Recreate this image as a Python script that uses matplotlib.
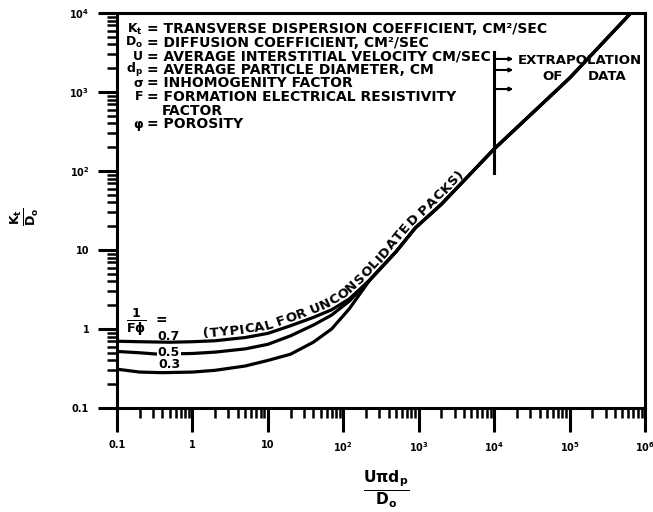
import numpy as np
import matplotlib
matplotlib.use('Agg')
import matplotlib.pyplot as plt
from matplotlib.transforms import IdentityTransform

plt.rcParams['font.family'] = ['DejaVu Sans']
plt.rcParams['font.weight'] = 'bold'
plt.rcParams['mathtext.fontset'] = 'custom'
plt.rcParams['mathtext.rm'] = 'DejaVu Sans:bold'
plt.rcParams['mathtext.it'] = 'DejaVu Sans:bold'
plt.rcParams['mathtext.bf'] = 'DejaVu Sans:bold'

W, H = 653, 512

# low-Peclet branches, one per 1/(F*phi)
pe_07 = [0.1, 0.2, 0.5, 1, 2, 5, 10, 20, 40, 70, 120]
kt_07 = [0.70, 0.69, 0.68, 0.69, 0.71, 0.78, 0.88, 1.10, 1.40, 1.75, 2.40]
pe_05 = [0.1, 0.2, 0.35, 1, 2, 5, 10, 20, 40, 70, 120]
kt_05 = [0.52, 0.50, 0.48, 0.49, 0.51, 0.56, 0.64, 0.82, 1.12, 1.50, 2.25]
pe_03 = [0.1, 0.2, 0.4, 1, 2, 5, 10, 20, 40, 70, 120]
kt_03 = [0.31, 0.285, 0.28, 0.285, 0.30, 0.34, 0.40, 0.48, 0.68, 1.00, 1.80]

# common high-Peclet line
pe_main = [226, 500, 900, 2000, 1e4, 1e5, 6.5e5]
kt_main = [4.2, 9.5, 19, 38, 190, 1500, 1e4]

branch_labels = ['0.7', '0.5', '0.3']

# data-range bracket at Pe = 1e4
bracket_pe = 1e4
bracket_kt = [94, 3200]
arrow_kt = [2620, 1900, 1090]
arrow_tip_pe = 1.8e4

x_ticks = [0.1, 1, 10, 1e2, 1e3, 1e4, 1e5, 1e6]
x_labels = ['0.1', '1', '10', r'$10^2$', r'$10^3$', r'$10^4$', r'$10^5$', r'$10^6$']
y_ticks = [0.1, 1, 10, 1e2, 1e3, 1e4]
y_labels = ['0.1', '1', '10', r'$10^2$', r'$10^3$', r'$10^4$']

symbols = [r'K$_\mathrm{t}$', r'D$_\mathrm{o}$', 'U', r'd$_\mathrm{p}$', 'σ', 'F', '', 'φ']
meanings = ['TRANSVERSE DISPERSION COEFFICIENT, CM²/SEC',
            'DIFFUSION COEFFICIENT, CM²/SEC',
            'AVERAGE INTERSTITIAL VELOCITY CM/SEC',
            'AVERAGE PARTICLE DIAMETER, CM',
            'INHOMOGENITY FACTOR',
            'FORMATION ELECTRICAL RESISTIVITY',
            'FACTOR',
            'POROSITY']


def pix(x, y):
    return x / W, 1 - y / H


fig = plt.figure(figsize=(6.53, 5.12), dpi=100)
ax = fig.add_axes([117 / W, 1 - 408 / H, (645 - 117) / W, (408 - 13) / H])
ax.set_xscale('log')
ax.set_yscale('log')
ax.set_xlim(0.1, 1e6)
ax.set_ylim(0.1, 1e4)

for pe, kt in [(pe_07, kt_07), (pe_05, kt_05), (pe_03, kt_03)]:
    ax.plot(pe + pe_main, kt + kt_main, color='black', lw=2.3,
            solid_joinstyle='round', solid_capstyle='round')

ax.plot([bracket_pe, bracket_pe], bracket_kt, color='black', lw=2.2)
for k in arrow_kt:
    ax.annotate('', xy=(arrow_tip_pe, k), xytext=(bracket_pe, k),
                arrowprops=dict(arrowstyle='-|>', color='black', lw=1.5,
                                mutation_scale=5, shrinkA=0, shrinkB=0))

for s in ax.spines.values():
    s.set_linewidth(2.2)

ax.xaxis.set_major_locator(matplotlib.ticker.FixedLocator(x_ticks))
ax.xaxis.set_major_formatter(matplotlib.ticker.FixedFormatter(x_labels))
ax.yaxis.set_major_locator(matplotlib.ticker.FixedLocator(y_ticks))
ax.yaxis.set_major_formatter(matplotlib.ticker.FixedFormatter(y_labels))
ax.tick_params(axis='x', which='major', direction='out', length=17, width=2.2,
               labelsize=7, pad=6)
ax.tick_params(axis='y', which='major', direction='out', length=14, width=2.2,
               labelsize=7, pad=6)
ax.tick_params(which='minor', direction='out', length=7, width=1.8)

# legend of symbols
y0 = 29
for i, (sym, txt) in enumerate(zip(symbols, meanings)):
    yy = y0 + i * 13.6
    if sym:
        fig.text(*pix(143, yy), sym, ha='right', va='center', fontsize=9)
        fig.text(*pix(147, yy), '= ' + txt, ha='left', va='center', fontsize=10)
    else:
        fig.text(*pix(162, yy), txt, ha='left', va='center', fontsize=10)

fig.text(*pix(580, 60), 'EXTRAPOLATION', ha='center', va='center', fontsize=9.5)
fig.text(*pix(553, 76), 'OF', ha='center', va='center', fontsize=9.5)
fig.text(*pix(607, 76), 'DATA', ha='center', va='center', fontsize=9.5)

fig.text(*pix(136, 322), r'$\frac{1}{F\phi}$', ha='center', va='center', fontsize=13)
fig.text(*pix(161, 320), '=', ha='center', va='center', fontsize=10)
fig.text(*pix(169, 336), branch_labels[0], ha='center', va='center', fontsize=9)
fig.text(*pix(169, 352), branch_labels[1], ha='center', va='center', fontsize=9,
         bbox=dict(fc='white', ec='none', pad=0.6))
fig.text(*pix(169, 364), branch_labels[2], ha='center', va='center', fontsize=9)

fig.text(*pix(386, 489), r'$\frac{\mathrm{U\pi d_p}}{\mathrm{D_o}}$',
         ha='center', va='center', fontsize=16)
fig.text(*pix(25, 217), r'$\frac{\mathrm{K_t}}{\mathrm{D_o}}$',
         ha='center', va='center', fontsize=13, rotation=90)


def curve_text(text, pe, kt, x_start, x_end, offset, size):
    fig.canvas.draw()
    r = fig.canvas.get_renderer()
    lx = np.log10(pe)
    xx = np.logspace(lx[0], lx[-1], 600)
    yy = 10 ** np.interp(np.log10(xx), lx, np.log10(kt))
    pts = ax.transData.transform(np.column_stack([xx, yy]))
    d = np.r_[0, np.cumsum(np.hypot(*np.diff(pts, axis=0).T))]

    def at(s):
        return np.interp(s, d, pts[:, 0]), np.interp(s, d, pts[:, 1])

    s0 = np.interp(np.log10(x_start), np.log10(xx), d)
    s1 = np.interp(np.log10(x_end), np.log10(xx), d)
    items = []
    for ch in text:
        t = fig.text(0, 0, ch, fontsize=size, transform=IdentityTransform(),
                     ha='center', va='baseline', rotation_mode='anchor')
        w = size * 0.35 if ch == ' ' else t.get_window_extent(r).width
        items.append((t, w))
    gap = (s1 - s0 - sum(w for _, w in items)) / (len(items) - 1)
    s = s0
    for t, w in items:
        m = s + w / 2
        xa, ya = at(m - 8)
        xb, yb = at(m + 8)
        ang = np.arctan2(yb - ya, xb - xa)
        px, py = at(m)
        t.set_position((px - np.sin(ang) * offset, py + np.cos(ang) * offset))
        t.set_rotation(np.degrees(ang))
        s += w + gap


curve_text('(TYPICAL FOR UNCONSOLIDATED PACKS)', pe_07 + pe_main, kt_07 + kt_main,
           1.4, 4400, 4, 9.5)

fig.savefig('out.png', dpi=100)
